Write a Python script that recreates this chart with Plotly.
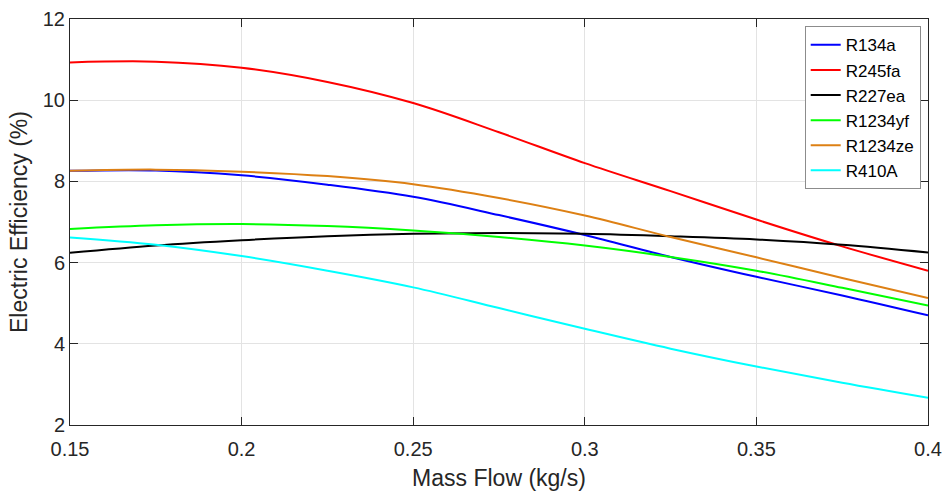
import plotly.graph_objects as go

mass_flow = [0.15, 0.175, 0.2, 0.225, 0.25, 0.275, 0.3, 0.325, 0.35, 0.375, 0.4]

r134a = [8.26, 8.27, 8.15, 7.92, 7.62, 7.17, 6.68, 6.14, 5.65, 5.19, 4.70]
r245fa = [10.93, 10.95, 10.80, 10.45, 9.93, 9.21, 8.45, 7.76, 7.06, 6.40, 5.80]
r227ea = [6.24, 6.42, 6.55, 6.65, 6.71, 6.73, 6.71, 6.65, 6.57, 6.44, 6.25]
r1234yf = [6.83, 6.92, 6.95, 6.90, 6.79, 6.63, 6.42, 6.14, 5.80, 5.38, 4.94]
r1234ze = [8.26, 8.29, 8.24, 8.13, 7.93, 7.59, 7.16, 6.63, 6.13, 5.62, 5.13]
r410a = [6.62, 6.44, 6.16, 5.80, 5.39, 4.88, 4.37, 3.88, 3.44, 3.04, 2.67]

series = [
    ("R134a", r134a, "#0000ff"),
    ("R245fa", r245fa, "#ff0000"),
    ("R227ea", r227ea, "#000000"),
    ("R1234yf", r1234yf, "#00ff00"),
    ("R1234ze", r1234ze, "#dd8014"),
    ("R410A", r410a, "#00ffff"),
]

FONT = "Liberation Sans, Arial, sans-serif"
TXT = "#262626"

fig = go.Figure()
for name, vals, col in series:
    fig.add_trace(go.Scatter(
        x=mass_flow, y=vals, mode="lines", name=name,
        line=dict(color=col, width=2, shape="spline", smoothing=1.0),
    ))

axis_common = dict(
    showline=True, linecolor=TXT, linewidth=1, mirror="ticks",
    ticks="inside", ticklen=8, tickwidth=1, tickcolor=TXT,
    showgrid=True, gridcolor="#e3e3e3", gridwidth=1,
    zeroline=False, automargin=False,
    tickfont=dict(family=FONT, size=20, color=TXT),
)

fig.update_layout(
    width=947, height=491,
    margin=dict(l=70, r=19, t=19, b=66),
    paper_bgcolor="white", plot_bgcolor="white",
    font=dict(family=FONT, color=TXT),
    xaxis=dict(range=[0.15, 0.4], dtick=0.05, tick0=0.15, ticklabelstandoff=6,
               title=dict(text="Mass Flow (kg/s)", font=dict(family=FONT, size=23, color=TXT), standoff=12),
               **axis_common),
    yaxis=dict(range=[2, 12], dtick=2,
               title=dict(text="Electric Efficiency (%)", font=dict(family=FONT, size=23, color=TXT), standoff=8),
               **axis_common),
    legend=dict(x=0.9915, y=0.982, xanchor="right", yanchor="top",
                bgcolor="white", bordercolor="#8c8c8c", borderwidth=1,
                font=dict(family=FONT, size=17, color="#000000"),
                itemwidth=30, tracegroupgap=0),
    showlegend=True,
)

fig.write_html("out.html")
